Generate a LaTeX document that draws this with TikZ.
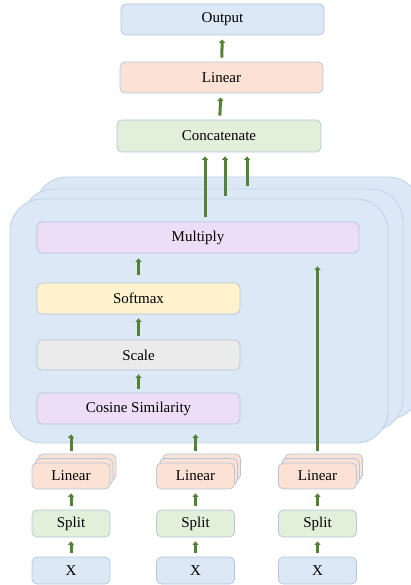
\documentclass[tikz,border=0pt]{standalone}
\usepackage{fontspec}
\setmainfont{Liberation Serif}
\usetikzlibrary{arrows.meta}
\definecolor{strk}{HTML}{B4C6DC}
\definecolor{pstrk}{HTML}{C2D3E8}
\definecolor{pfill}{HTML}{DCE8F5}
\definecolor{bluef}{HTML}{DCE8F5}
\definecolor{orangef}{HTML}{FBE2D5}
\definecolor{greenf}{HTML}{E2EFDA}
\definecolor{purplef}{HTML}{EEDDF6}
\definecolor{yellowf}{HTML}{FFF2CC}
\definecolor{grayf}{HTML}{EBEBEB}
\definecolor{arrg}{HTML}{548235}
\tikzset{
  box/.style={draw=strk, line width=0.8pt, rounded corners=5pt, inner sep=0pt,
    font=\fontsize{15}{18}\selectfont},
  panel/.style={draw=pstrk, fill=pfill, line width=0.9pt, rounded corners=32pt},
  arr/.style={draw=arrg, line width=3pt, -{Triangle[length=3.5pt,width=6pt]},
    shorten <=4pt, shorten >=4pt},
}
\begin{document}
\begin{tikzpicture}[x=1pt,y=-1pt]
\useasboundingbox (0,0) rectangle (411,585);
\clip (0,0) rectangle (411,585);
% stacked panels
\draw[panel] (35,177) rectangle (420,419);
\draw[panel] (22,189) rectangle (403,431);
\draw[panel] (10,199) rectangle (388,443);
% top
\node[box, fill=bluef, minimum width=203pt, minimum height=31pt] (out) at (222.5,19.5) {Output};
\node[box, fill=orangef, minimum width=203pt, minimum height=31pt] (lin) at (221.5,77.5) {Linear};
\node[box, fill=greenf, minimum width=204pt, minimum height=32pt] (cat) at (219,136) {Concatenate};
% inside panel
\node[box, fill=purplef, minimum width=322pt, minimum height=31pt] (mul) at (198,237.5) {Multiply};
\node[box, fill=yellowf, minimum width=203pt, minimum height=31pt] (soft) at (138.5,298.5) {Softmax};
\node[box, fill=grayf, minimum width=203pt, minimum height=30pt] (scale) at (138.5,355) {Scale};
\node[box, fill=purplef, minimum width=203pt, minimum height=31pt] (cos) at (138.5,408.5) {Cosine Similarity};
% bottom columns
\foreach \n/\cx in {L/71, M/195.5, R/317.5}{
  \node[box, fill=orangef, minimum width=78pt, minimum height=26pt] (lin\n2) at (\cx+6,467) {};
  \node[box, fill=orangef, minimum width=78pt, minimum height=26pt] (lin\n1) at (\cx+3,471.5) {};
  \node[box, fill=orangef, minimum width=78pt, minimum height=26pt] (lin\n) at (\cx,476) {Linear};
  \node[box, fill=greenf, minimum width=78pt, minimum height=27pt] (split\n) at (\cx,523.5) {Split};
  \node[box, fill=bluef, minimum width=78pt, minimum height=27pt] (x\n) at (\cx,570.5) {X};
  \draw[arr] (x\n) -- (split\n);
  \draw[arr] (split\n) -- (lin\n);
}
% arrows top
\draw[arr] (lin) -- (out);
\draw[arr] (cat) -- (lin);
\draw[arr] (cos) -- (scale);
\draw[arr] (scale) -- (soft);
\draw[arr, shorten <=8pt, shorten >=5pt] (soft.north) -- (soft.north |- mul.south);
% into concatenate
\coordinate (m1) at (205,217);
\coordinate (m2) at (225,196);
\coordinate (m3) at (247,186);
\foreach \m in {m1,m2,m3}{
  \draw[arr, shorten <=0pt, shorten >=4pt] (\m) -- (\m |- cat.south);
}
% into cosine / multiply
\draw[arr, shorten <=3pt, shorten >=10pt] (linL.center |- linL2.north) -- (linL.center |- cos.south);
\draw[arr, shorten <=3pt, shorten >=10pt] (linM.center |- linM2.north) -- (linM.center |- cos.south);
\draw[arr, shorten <=3pt, shorten >=13pt] (linR.center |- linR2.north) -- (linR.center |- mul.south);
\end{tikzpicture}
\end{document}
